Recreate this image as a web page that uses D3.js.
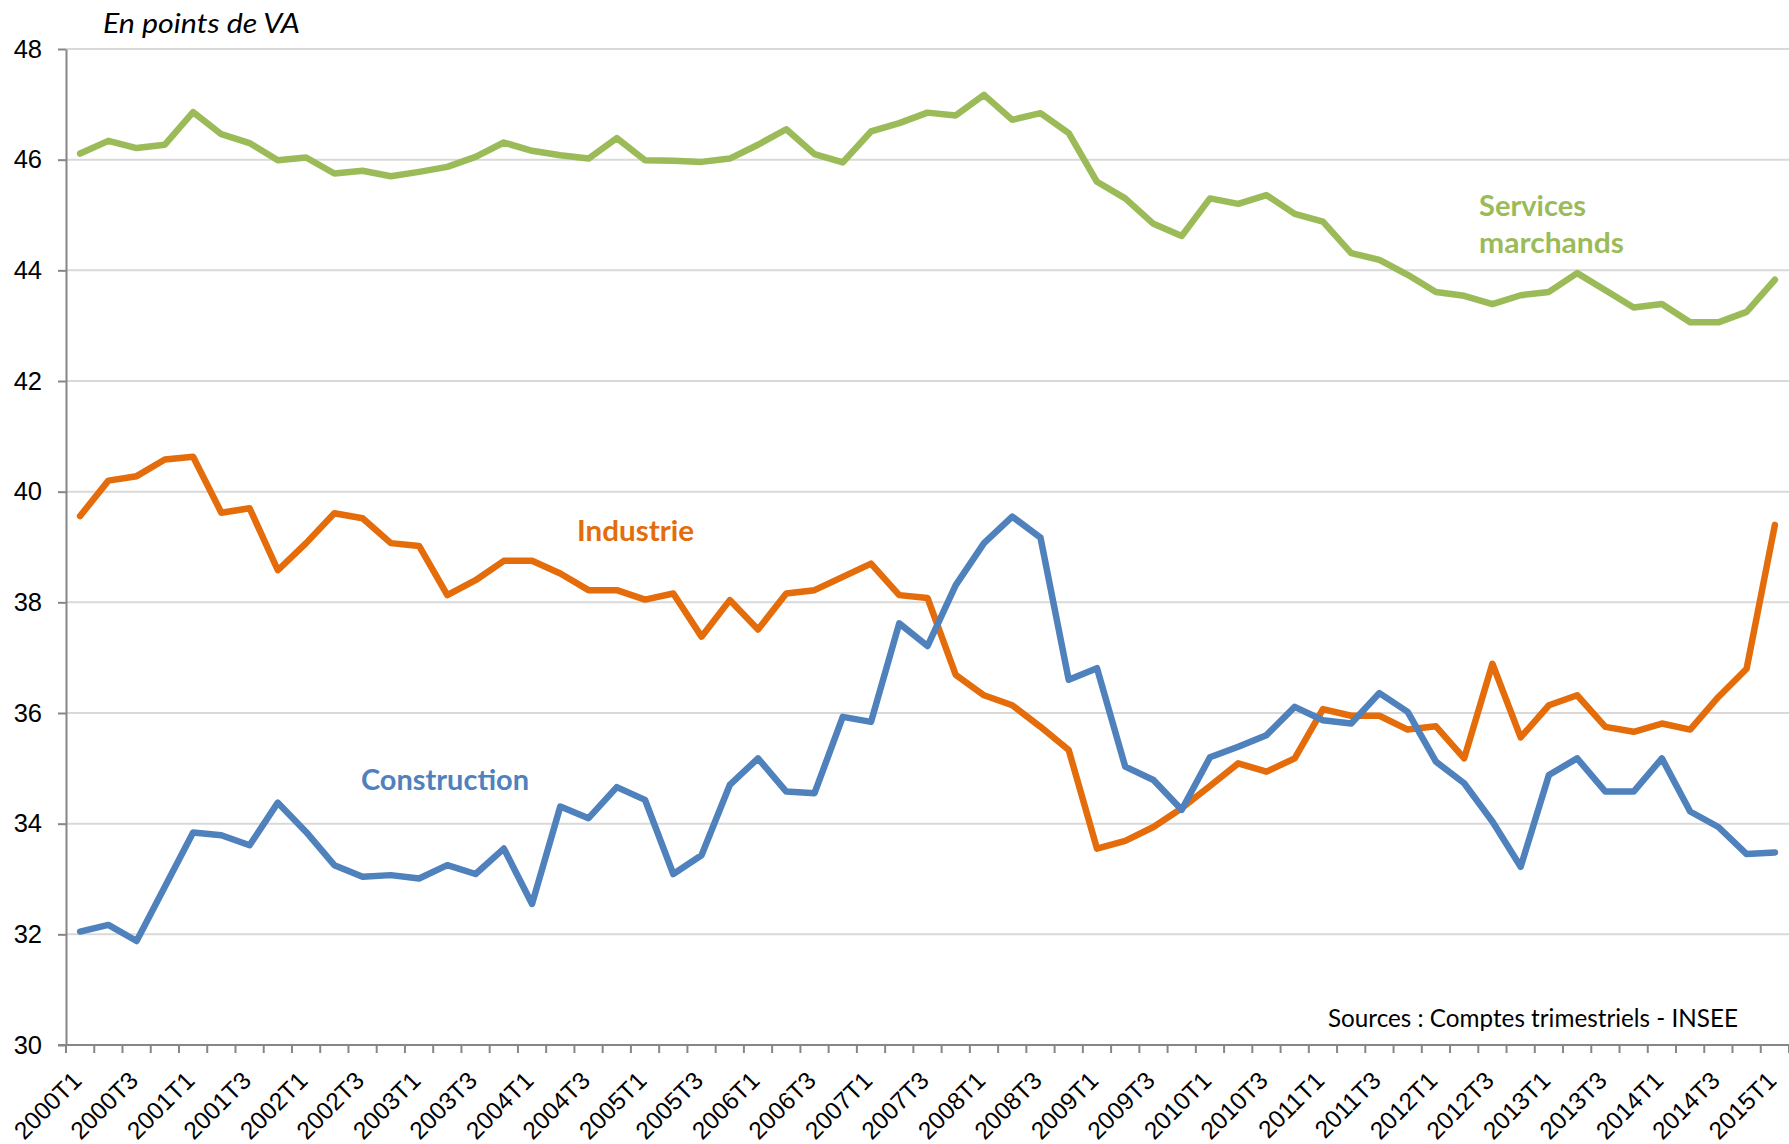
<!DOCTYPE html>
<html>
<head>
<meta charset="utf-8">
<script src="https://cdn.jsdelivr.net/npm/d3@7"></script>
<style>
  html, body { margin: 0; padding: 0; background: #ffffff; }
  svg { display: block; }
</style>
</head>
<body>
<svg id="chart" width="1789" height="1144"></svg>
<script>
// ---------- DATA ----------
const quarters = [];
for (let yr = 2000; yr <= 2015; yr++) {
  for (let q = 1; q <= 4; q++) {
    if (yr === 2015 && q > 1) break;
    quarters.push(yr + "T" + q);
  }
}

const servicesMarchands = [46.11, 46.34, 46.21, 46.27, 46.86, 46.46, 46.30, 45.99, 46.04, 45.75,
  45.80, 45.70, 45.78, 45.87, 46.05, 46.31, 46.16, 46.08, 46.02, 46.39,
  45.99, 45.98, 45.96, 46.02, 46.27, 46.55, 46.10, 45.95, 46.51, 46.66,
  46.85, 46.80, 47.17, 46.72, 46.84, 46.48, 45.60, 45.30, 44.84, 44.62,
  45.30, 45.20, 45.36, 45.02, 44.88, 44.31, 44.19, 43.92, 43.61, 43.54,
  43.39, 43.55, 43.61, 43.95, 43.64, 43.33, 43.39, 43.06, 43.06, 43.25,
  43.83];

const industrie = [39.56, 40.20, 40.28, 40.58, 40.63, 39.62, 39.70, 38.58, 39.07, 39.61,
  39.52, 39.07, 39.02, 38.13, 38.40, 38.75, 38.75, 38.52, 38.22, 38.22,
  38.05, 38.16, 37.38, 38.04, 37.51, 38.16, 38.22, 38.46, 38.70, 38.13,
  38.08, 36.69, 36.32, 36.14, 35.75, 35.33, 33.55, 33.69, 33.94, 34.28,
  34.68, 35.09, 34.94, 35.18, 36.07, 35.95, 35.95, 35.70, 35.76, 35.18,
  36.89, 35.56, 36.14, 36.32, 35.75, 35.66, 35.81, 35.70, 36.29, 36.80,
  39.40];

const construction = [32.05, 32.17, 31.88, 32.86, 33.84, 33.79, 33.61, 34.38, 33.85, 33.25,
  33.04, 33.07, 33.01, 33.25, 33.09, 33.55, 32.55, 34.31, 34.10, 34.66,
  34.43, 33.09, 33.43, 34.70, 35.18, 34.58, 34.55, 35.93, 35.84, 37.62,
  37.21, 38.31, 39.07, 39.55, 39.17, 36.60, 36.81, 35.03, 34.79, 34.25,
  35.20, 35.39, 35.60, 36.11, 35.87, 35.81, 36.36, 36.02, 35.12, 34.73,
  34.04, 33.22, 34.88, 35.18, 34.58, 34.58, 35.18, 34.22, 33.94, 33.45,
  33.48];

const yTickValues = [30, 32, 34, 36, 38, 40, 42, 44, 46, 48];
const seriesNames = ["Industrie", "Construction", "Services marchands"];
const unitLabel = "En points de VA";
const sourceLabel = "Sources : Comptes trimestriels - INSEE";

// ---------- LAYOUT ----------
const W = 1789, H = 1144;
const mLeft = 66, mRight = 1789, mTop = 49, mBottom = 1045;
const colors = { ind: "#E46C0A", con: "#4F81BD", ser: "#9BBB59" };

const svg = d3.select("#chart");
svg.append("rect").attr("width", W).attr("height", H).attr("fill", "#fff");

const x = d3.scaleBand().domain(quarters).range([mLeft, mRight]).padding(0);
const y = d3.scaleLinear().domain([30, 48]).range([mBottom, mTop]);
const cx = d => x(d) + x.bandwidth() / 2;

// gridlines
svg.append("g").selectAll("line")
  .data(yTickValues.filter(v => v > 30))
  .join("line")
  .attr("x1", mLeft).attr("x2", mRight)
  .attr("y1", d => y(d)).attr("y2", d => y(d))
  .attr("stroke", "#D9D9D9").attr("stroke-width", 2);

// y axis
const yAxis = svg.append("g")
  .attr("transform", `translate(${mLeft},0)`)
  .call(d3.axisLeft(y).tickValues(yTickValues).tickSize(8).tickSizeOuter(0).tickPadding(16));
yAxis.select(".domain").attr("stroke", "#868686").attr("stroke-width", 2);
yAxis.selectAll(".tick line").attr("stroke", "#868686").attr("stroke-width", 2);
yAxis.selectAll(".tick text")
  .attr("font-family", "'Liberation Sans', Arial, sans-serif")
  .attr("font-size", 25.5).attr("fill", "#000");

// x axis line
svg.append("line")
  .attr("x1", mLeft - 8).attr("x2", mRight)
  .attr("y1", mBottom).attr("y2", mBottom)
  .attr("stroke", "#868686").attr("stroke-width", 2);

// x ticks at band boundaries
const boundaries = quarters.map(q => x(q)).concat([x(quarters[quarters.length - 1]) + x.bandwidth()]);
svg.append("g").selectAll("line")
  .data(boundaries)
  .join("line")
  .attr("x1", d => d).attr("x2", d => d)
  .attr("y1", mBottom).attr("y2", mBottom + 8)
  .attr("stroke", "#868686").attr("stroke-width", 2);

// x labels (every other quarter)
svg.append("g").selectAll("text")
  .data(quarters.filter((q, i) => i % 2 === 0))
  .join("text")
  .attr("transform", d => `translate(${cx(d) + 3},1082) rotate(-45)`)
  .attr("text-anchor", "end")
  .attr("font-family", "'Liberation Sans', Arial, sans-serif")
  .attr("font-size", 24.5)
  .attr("fill", "#000")
  .text(d => d);

// lines
const line = d3.line()
  .x((d, i) => cx(quarters[i]))
  .y(d => y(d));

const series = [
  { vals: industrie, color: colors.ind },
  { vals: construction, color: colors.con },
  { vals: servicesMarchands, color: colors.ser }
];
svg.append("g").selectAll("path")
  .data(series)
  .join("path")
  .attr("d", d => line(d.vals))
  .attr("fill", "none")
  .attr("stroke", d => d.color)
  .attr("stroke-width", 6.5)
  .attr("stroke-linejoin", "round")
  .attr("stroke-linecap", "round");

// text labels
function label(txt, xPos, yPos, opts) {
  const t = svg.append("text")
    .attr("x", xPos).attr("y", yPos)
    .attr("font-family", opts.family || "Lato, 'Open Sans', sans-serif")
    .attr("font-size", opts.size)
    .attr("font-weight", opts.weight || "normal")
    .attr("font-style", opts.style || "normal")
    .attr("fill", opts.fill || "#000")
    .text(txt);
  if (opts.width) t.attr("textLength", opts.width).attr("lengthAdjust", "spacingAndGlyphs");
  return t;
}

label(unitLabel, 103, 33, { size: 27, style: "italic", width: 197 });
label(sourceLabel, 1328, 1027, { size: 25, width: 410 });
label(seriesNames[0], 577, 541, { size: 28, weight: "bold", fill: colors.ind, width: 117 });
label(seriesNames[1], 361, 790, { size: 28, weight: "bold", fill: colors.con, width: 168 });
label("Services", 1479, 216, { size: 28, weight: "bold", fill: colors.ser, width: 107 });
label("marchands", 1479, 253, { size: 28, weight: "bold", fill: colors.ser, width: 145 });
</script>
</body>
</html>
